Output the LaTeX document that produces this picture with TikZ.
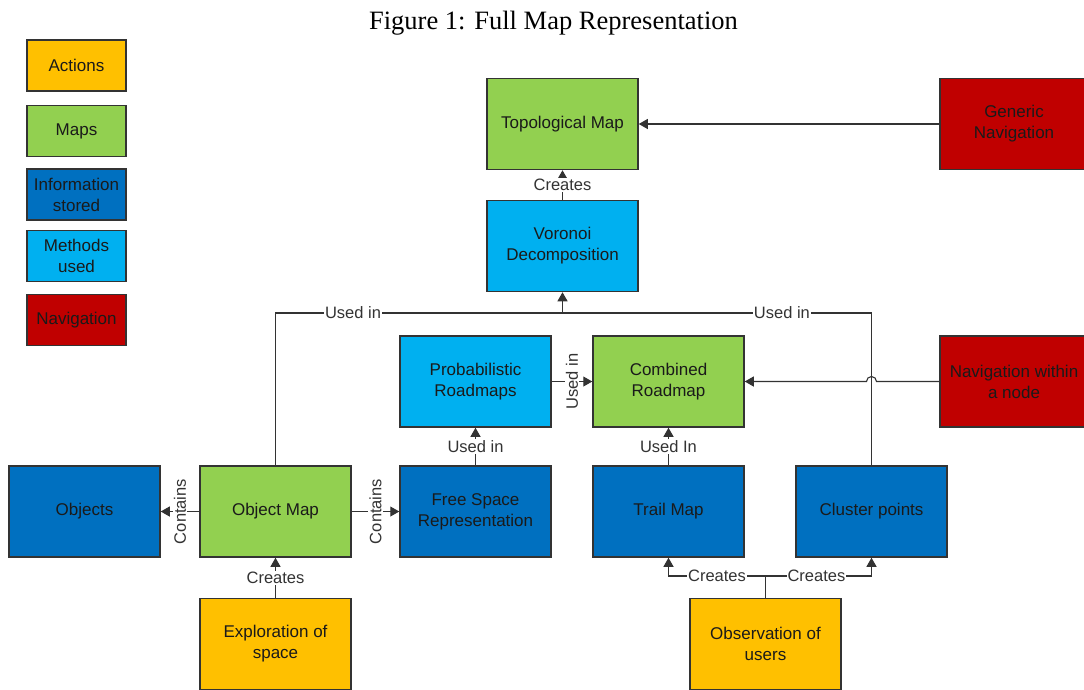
\documentclass[tikz,border=0pt]{standalone}
\usepackage{fontspec}
\setmainfont{Liberation Sans}
\newfontfamily\capfont{Liberation Serif}
\usetikzlibrary{arrows.meta}
\definecolor{cAct}{HTML}{FFC000}
\definecolor{cMap}{HTML}{92D050}
\definecolor{cInfo}{HTML}{0070C0}
\definecolor{cMeth}{HTML}{00B0F0}
\definecolor{cNav}{HTML}{C00000}
\definecolor{cLine}{HTML}{333333}
\definecolor{cTxt}{HTML}{1A1A1A}
\tikzset{
  box/.style={draw=cLine, line width=1.5pt, minimum width=151pt, minimum height=91pt,
    align=center, text=cTxt, inner sep=0pt,
    font=\fontsize{17}{21}\selectfont},
  legbox/.style={box, minimum width=99pt, minimum height=51pt},
  act/.style={fill=cAct}, mapc/.style={fill=cMap}, info/.style={fill=cInfo},
  meth/.style={fill=cMeth}, navc/.style={fill=cNav},
  conn/.style={draw=cLine, line width=1.1pt},
  arr/.style={conn, -{Triangle[width=10pt,length=9pt]}},
  lbl/.style={fill=white, inner sep=1pt, text=cLine, font=\fontsize{16.5}{18}\selectfont},
}
\begin{document}
\begin{tikzpicture}[x=1pt,y=-1pt]
\useasboundingbox (0,0) rectangle (1084,689);
\node[font=\capfont\fontsize{26.5}{30}\selectfont] (cap) at (553.5,23) {Figure 1: Full Map Representation};
% legend
\node[legbox,act]  (lA) at (76.5,65.5)  {Actions};
\node[legbox,mapc] (lM) at (76.5,131)   {Maps};
\node[legbox,info] (lI) at (76.5,194.5) {Information\\stored};
\node[legbox,meth] (lX) at (76.5,256)   {Methods\\used};
\node[legbox,navc] (lN) at (76.5,320)   {Navigation};
% main boxes
\node[box,mapc] (topo) at (562.5,124) {Topological Map};
\node[box,navc, minimum width=148pt] (gen) at (1014,124) {Generic\\Navigation};
\node[box,meth] (vor) at (562.5,246) {Voronoi\\Decomposition};
\node[box,meth] (prm) at (475.5,381.5) {Probabilistic\\Roadmaps};
\node[box,mapc] (crm) at (668.5,381.5) {Combined\\Roadmap};
\node[box,navc, minimum width=148pt] (nwn) at (1014,381.5) {Navigation within\\a node};
\node[box,info] (obj) at (84.5,511.5) {Objects};
\node[box,mapc] (om) at (275.5,511.5) {Object Map};
\node[box,info] (fsr) at (475.5,511.5) {Free Space\\Representation};
\node[box,info] (trail) at (668.5,511.5) {Trail Map};
\node[box,info] (clu) at (871.5,511.5) {Cluster points};
\node[box,act] (exp) at (275.5,644) {Exploration of\\space};
\node[box,act] (obs) at (765.5,644) {Observation of\\users};
% connectors
\draw[arr] (gen.west) -- (topo.east);
\draw[arr] (vor.north) -- node[lbl] {Creates} (topo.south);
\coordinate (uj) at (562.5,313);
\draw[conn] (om.north) |- node[lbl,pos=0.635] {Used in} (uj);
\draw[conn] (clu.north) |- node[lbl,pos=0.645] {Used in} (uj);
\draw[arr] (uj) -- (vor.south);
\draw[arr] (prm.east) -- node[lbl,rotate=90] {Used in} (crm.west);
\coordinate (hopR) at (876.5,381.5);
\draw[arr] (nwn.west) -- (hopR) arc[start angle=0,end angle=-180,radius=5] -- (crm.east);
\draw[arr] (fsr.north) -- node[lbl] {Used in} (prm.south);
\draw[arr] (trail.north) -- node[lbl] {Used In} (crm.south);
\draw[arr] (om.west) -- node[lbl,rotate=90] {Contains} (obj.east);
\draw[arr] (om.east) -- node[lbl,rotate=90] {Contains} (fsr.west);
\draw[arr] (exp.north) -- node[lbl] {Creates} (om.south);
\coordinate (oj) at (765.5,576);
\draw[conn] (obs.north) -- (oj);
\draw[arr] (oj) -| node[lbl,pos=0.25] {Creates} (trail.south);
\draw[arr] (oj) -| node[lbl,pos=0.24] {Creates} (clu.south);
\end{tikzpicture}
\end{document}
